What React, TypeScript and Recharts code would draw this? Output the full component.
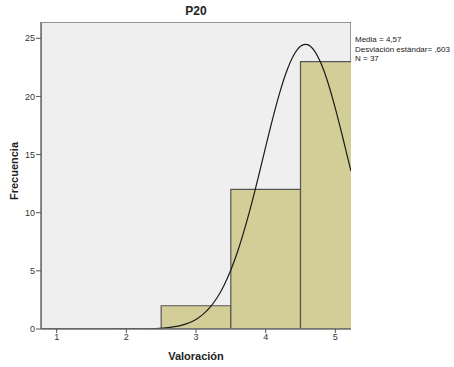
import { ComposedChart, Line, ReferenceArea, XAxis, YAxis } from "recharts";

// histogram bins for P20 (1 point wide)
const binStart = [2.5, 3.5, 4.5];
const binEnd = [3.5, 4.5, 5.5];
const binCount = [2, 12, 23];

// fitted normal curve, scaled to counts
const curveX = [
  0.775, 1.0, 1.5, 2.0, 2.2, 2.4, 2.6, 2.8, 3.0, 3.1, 3.2, 3.3, 3.4, 3.5, 3.6, 3.7, 3.8, 3.9, 4.0, 4.1,
  4.2, 4.3, 4.4, 4.5, 4.57, 4.6, 4.7, 4.8, 4.9, 5.0, 5.1, 5.2, 5.225,
];
const curveY = [
  0, 0, 0, 0.003, 0.011, 0.038, 0.118, 0.33, 0.825, 1.254, 1.853, 2.663, 3.728, 5.07, 6.71, 8.65, 10.83,
  13.2, 15.66, 18.07, 20.28, 22.14, 23.52, 24.32, 24.48, 24.45, 23.92, 22.76, 21.07, 18.98, 16.64, 14.18,
  13.57,
];

const xTicks = [1, 2, 3, 4, 5];
const yTicks = [0, 5, 10, 15, 20, 25];
const X_MIN = 0.775;
const X_MAX = 5.225;
const Y_MAX = 26.4;

const statLines = ["Media = 4,57", "Desviación estándar= ,603", "N = 37"];

const font = '"Liberation Sans", Arial, sans-serif';
const tickStyle = { fontSize: 9, fill: "#333", fontFamily: font };

export default function App() {
  const data = curveX.map((x, i) => ({ x, y: curveY[i] }));

  return (
    <div style={{ position: "absolute", left: 0, top: 0, width: 454, height: 367, background: "#fff", fontFamily: font }}>
      <div style={{ position: "absolute", left: 0, width: 392, top: 4, textAlign: "center", fontWeight: "bold", fontSize: 12, color: "#222" }}>
        P20
      </div>
      <ComposedChart width={454} height={367} data={data} margin={{ top: 22, right: 103, left: 11, bottom: 14 }}>
        <XAxis
          dataKey="x"
          type="number"
          domain={[X_MIN, X_MAX]}
          ticks={xTicks}
          allowDataOverflow
          height={24}
          tick={tickStyle}
          tickSize={4}
          tickMargin={1}
          axisLine={{ stroke: "#6e6e6e", strokeWidth: 1.5 }}
          tickLine={{ stroke: "#555" }}
        />
        <YAxis
          type="number"
          domain={[0, Y_MAX]}
          ticks={yTicks}
          allowDataOverflow
          width={30}
          tick={tickStyle}
          tickSize={5}
          tickMargin={1}
          axisLine={{ stroke: "#6e6e6e", strokeWidth: 1.5 }}
          tickLine={{ stroke: "#555" }}
        />
        <ReferenceArea x1={X_MIN} x2={X_MAX} y1={0} y2={Y_MAX} fill="#efefef" fillOpacity={1} stroke="#7a7a7a" strokeWidth={1.5} ifOverflow="hidden" />
        {binCount.map((c, i) => (
          <ReferenceArea
            key={i}
            x1={binStart[i]}
            x2={binEnd[i]}
            y1={0}
            y2={c}
            fill="#d3ce98"
            fillOpacity={1}
            stroke="#555"
            strokeWidth={1.2}
            ifOverflow="hidden"
          />
        ))}
        <Line type="monotone" dataKey="y" stroke="#1a1a1a" strokeWidth={1.2} dot={false} isAnimationActive={false} />
      </ComposedChart>
      <div style={{ position: "absolute", left: 0, width: 392, top: 350, textAlign: "center", fontWeight: "bold", fontSize: 11, color: "#222" }}>
        Valoración
      </div>
      <div
        style={{
          position: "absolute",
          left: 14,
          top: 171,
          transform: "translate(-50%, -50%) rotate(-90deg)",
          fontWeight: "bold",
          fontSize: 11,
          color: "#222",
          whiteSpace: "nowrap",
        }}
      >
        Frecuencia
      </div>
      <div style={{ position: "absolute", left: 355, top: 35, fontSize: 8, lineHeight: "9.5px", color: "#222", whiteSpace: "nowrap" }}>
        {statLines.map((s) => (
          <div key={s}>{s}</div>
        ))}
      </div>
    </div>
  );
}
